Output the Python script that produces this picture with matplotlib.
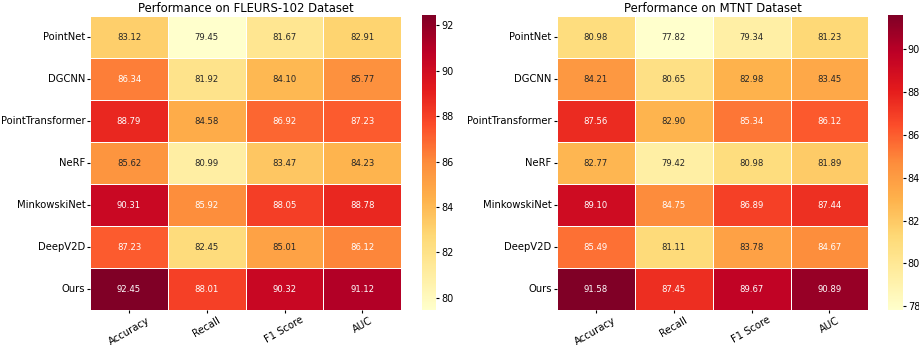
import numpy as np
import matplotlib
matplotlib.use("Agg")
import matplotlib.pyplot as plt
import seaborn as sns

methods = ["PointNet", "DGCNN", "PointTransformer", "NeRF", "MinkowskiNet", "DeepV2D", "Ours"]
metrics = ["Accuracy", "Recall", "F1 Score", "AUC"]

fleurs = np.array([
    [83.12, 79.45, 81.67, 82.91],
    [86.34, 81.92, 84.10, 85.77],
    [88.79, 84.58, 86.92, 87.23],
    [85.62, 80.99, 83.47, 84.23],
    [90.31, 85.92, 88.05, 88.78],
    [87.23, 82.45, 85.01, 86.12],
    [92.45, 88.01, 90.32, 91.12],
])
mtnt = np.array([
    [80.98, 77.82, 79.34, 81.23],
    [84.21, 80.65, 82.98, 83.45],
    [87.56, 82.90, 85.34, 86.12],
    [82.77, 79.42, 80.98, 81.89],
    [89.10, 84.75, 86.89, 87.44],
    [85.49, 81.11, 83.78, 84.67],
    [91.58, 87.45, 89.67, 90.89],
])
titles = ["Performance on FLEURS-102 Dataset", "Performance on MTNT Dataset"]

fig = plt.figure(figsize=(9.2, 3.45), dpi=100)
ax_pos = [[0.098, 0.101, 0.338, 0.852], [0.605, 0.101, 0.339, 0.852]]
cb_pos = [[0.4584, 0.101, 0.016, 0.855], [0.9655, 0.101, 0.016, 0.855]]

for data, title, ap, cp in zip([fleurs, mtnt], titles, ax_pos, cb_pos):
    ax = fig.add_axes(ap)
    cax = fig.add_axes(cp)
    sns.heatmap(data, ax=ax, cbar_ax=cax, cmap="YlOrRd", annot=True, fmt=".2f",
                linewidths=0.5, linecolor="white",
                xticklabels=metrics, yticklabels=methods,
                annot_kws={"fontsize": 6.1})
    ax.set_title(title, fontsize=8.4, pad=3)
    ax.tick_params(axis="x", labelsize=7.2, rotation=30, length=2, pad=1.5)
    ax.tick_params(axis="y", labelsize=7.2, rotation=0, length=2, pad=1.5)
    cax.tick_params(labelsize=7, length=2, pad=1.5)

fig.savefig("out.png", dpi=100)
